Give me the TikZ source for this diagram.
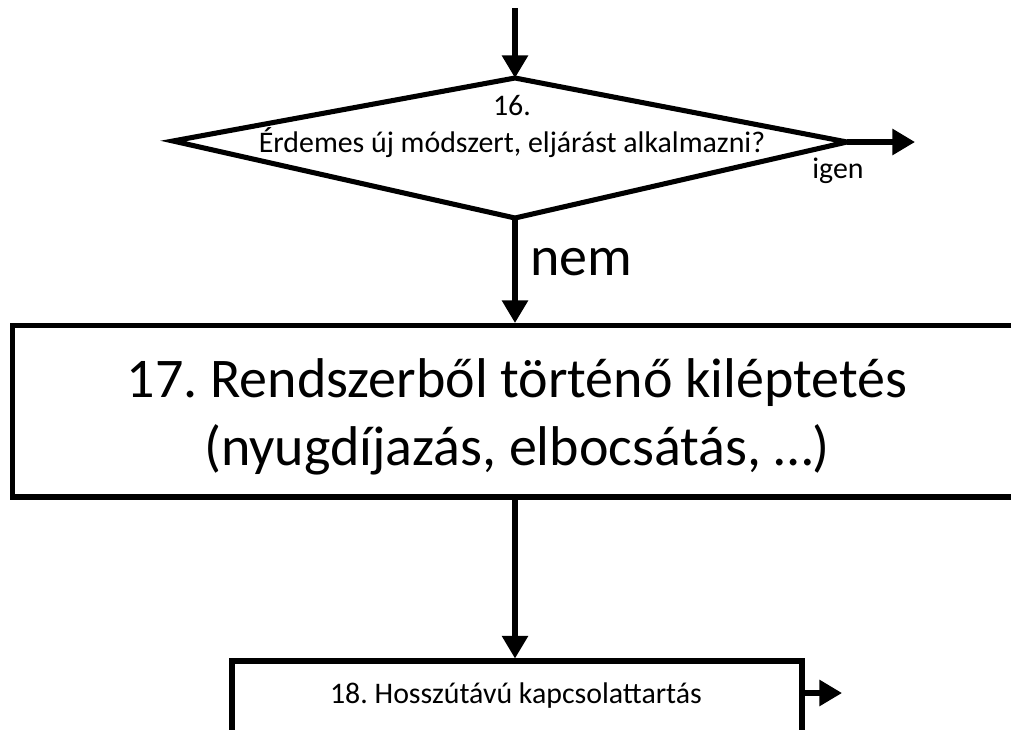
\documentclass[tikz,border=0pt]{standalone}
\usepackage{fontspec}
\setmainfont{Carlito}
\usetikzlibrary{arrows.meta,fit}
\frenchspacing
\begin{document}
\begin{tikzpicture}[x=0.75pt,y=-0.75pt,
  outline/.style={draw, line width=3.8pt, line join=miter, inner sep=0pt},
  flow/.style={line width=3.8pt, -{Triangle[length=17pt,width=19pt]}},
  smalltext/.style={font=\fontsize{22.4}{27}\selectfont, anchor=base, inner sep=0pt},
  bigtext/.style={font=\fontsize{42}{51}\selectfont, anchor=base, inner sep=0pt}]
\useasboundingbox (0,0) rectangle (1011,729);
\clip (0,0) rectangle (1011,729);

% decision 16: corner points of the diamond
\coordinate (dtop)   at (515,78);
\coordinate (dleft)  at (173,141);
\coordinate (dright) at (847,142);
\coordinate (dbot)   at (515,218);
\draw[line width=3.8pt, line join=miter] (dtop) -- (dright) -- (dbot) -- (dleft) -- cycle;
\node[smalltext] (q16num) at (512,115) {16.};
\node[smalltext] (q16) at (512,152) {Érdemes új módszert, eljárást alkalmazni?};

% step 17 (box runs past the right edge)
\node[outline, fit={(12.5,325.5) (1030,497)}] (box17) {};
\node[bigtext] (t17a) at (517,397) {17. Rendszerből történő kiléptetés};
\node[bigtext] (t17b) at (517,465) {(nyugdíjazás, elbocsátás, …)};

% step 18 (box runs past the bottom edge)
\node[outline, fit={(232,661) (802,745)}] (box18) {};
\node[smalltext] (t18) at (516,703) {18. Hosszútávú kapcsolattartás};

% connectors
\coordinate (src) at (515,8);
\coordinate (yesend) at (915,142);
\coordinate (out18) at (842,693);
\draw[flow] (src) -- (dtop);
\draw[flow] (dright) -- (yesend);
\node[smalltext] (yes) at (838,178) {igen};
\draw[flow] (dbot) -- (dbot |- box17.north);
\node[bigtext, anchor=base west] (no) at (530,275) {nem};
\draw[flow] (dbot |- box17.south) -- (dbot |- box18.north);
\draw[flow] (out18 -| box18.east) -- (out18);
\end{tikzpicture}
\end{document}
